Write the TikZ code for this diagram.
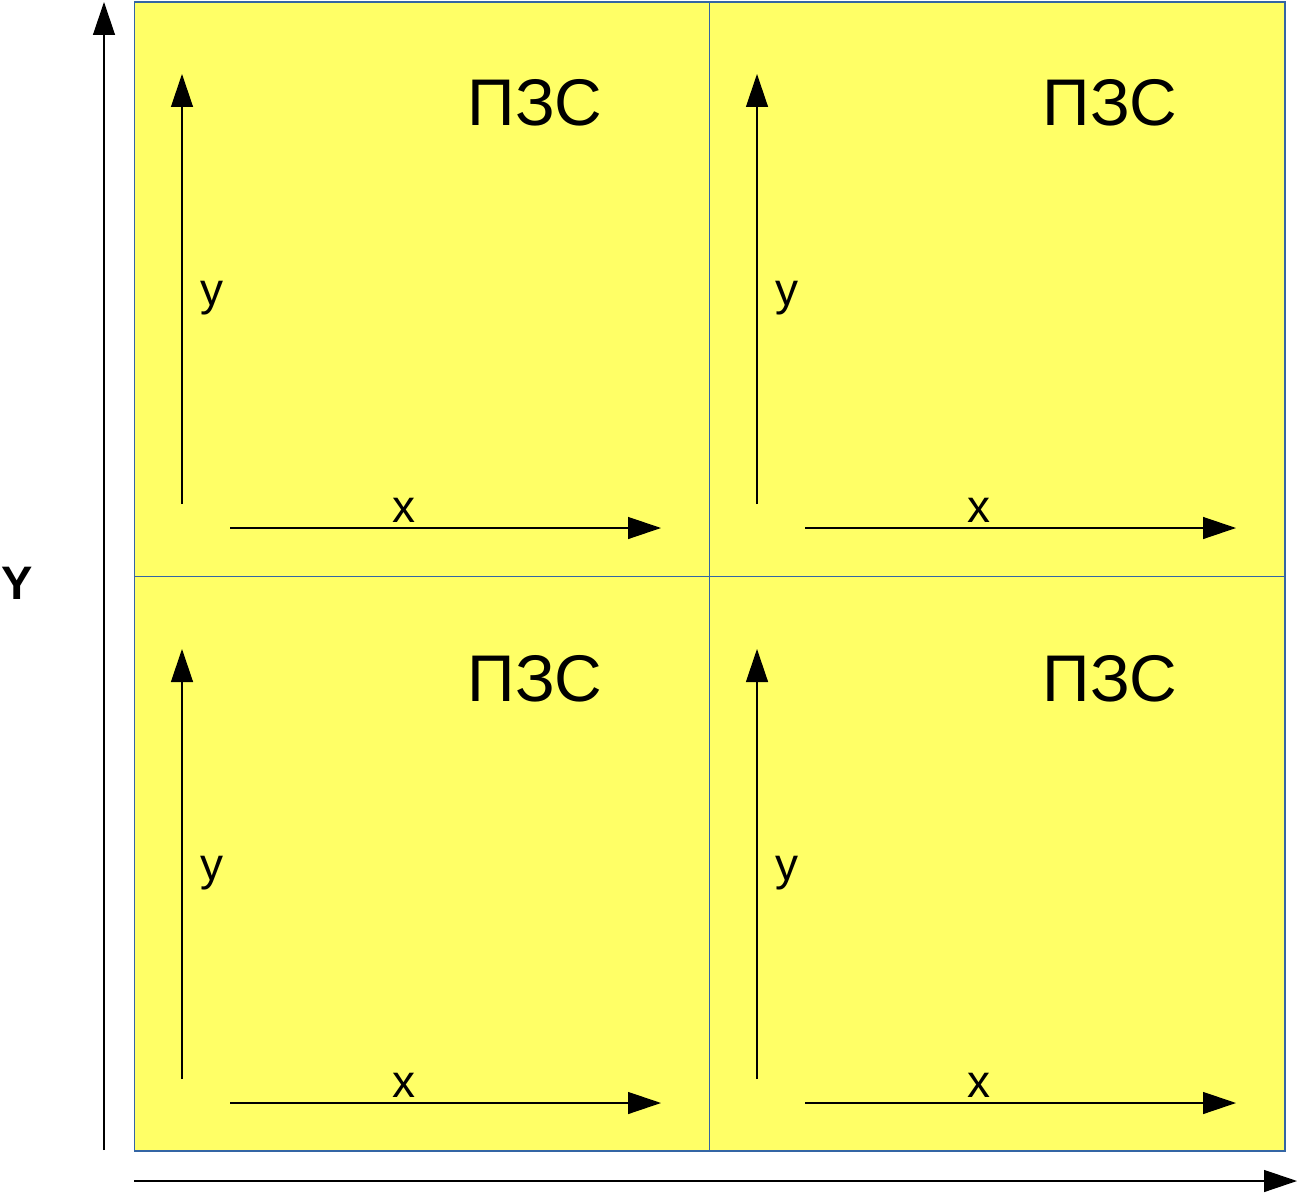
\documentclass[tikz,border=0pt]{standalone}
\usepackage{fontspec}
\setmainfont{Liberation Sans}
\usetikzlibrary{arrows.meta}
\definecolor{panelyellow}{HTML}{FFFF66}
\definecolor{panelblue}{HTML}{3465A4}
\begin{document}
\begin{tikzpicture}[x=1pt,y=-1pt,
  axis/.style={line width=1.3pt,-{Triangle[length=33pt,width=22pt]}},
  panel/.style={draw=panelblue,line width=1pt,fill=panelyellow,minimum width=575pt,minimum height=574pt,inner sep=0pt,anchor=north west},
  biglabel/.style={font=\fontsize{66}{66}\selectfont,anchor=base,inner sep=0pt},
  axlabel/.style={font=\fontsize{46}{46}\selectfont,anchor=base,inner sep=0pt}]
\useasboundingbox (0,0) rectangle (1301,1196);
% panels
\foreach \i/\dx in {0/0,1/575}{
  \foreach \j/\dy in {0/0,1/574}{
    \node[panel] (p\i\j) at (134+\dx,2+\dy) {};
  }
}
\draw[draw=panelblue,line width=1pt] (p00.north west) rectangle (p11.south east);
% inner axes and labels
\foreach \i/\dx in {0/0,1/575}{
  \foreach \j/\dy in {0/0,1/575}{
    \coordinate (ys\i\j) at (182+\dx,504+\dy);
    \coordinate (ye\i\j) at (182+\dx,74+\dy);
    \coordinate (xs\i\j) at (230+\dx,528+\dy);
    \coordinate (xe\i\j) at (661+\dx,528+\dy);
    \draw[axis] (ys\i\j) -- (ye\i\j);
    \draw[axis] (xs\i\j) -- (xe\i\j);
    \node[axlabel] (ly\i\j) at (212+\dx,305+\dy) {y};
    \node[axlabel] (lx\i\j) at (404+\dx,522+\dy) {x};
    \node[biglabel] (pzs\i\j) at (535+\dx,126+\dy) {ПЗС};
  }
}
% outer axes
\coordinate (Ys) at (104,1150);
\coordinate (Ye) at (104,2);
\coordinate (Xs) at (134,1181);
\coordinate (Xe) at (1297,1181);
\draw[axis] (Ys) -- (Ye);
\draw[axis] (Xs) -- (Xe);
\node[font=\fontsize{47}{47}\selectfont\bfseries,anchor=base,inner sep=0pt] (Ylab) at (17,599) {Y};
\end{tikzpicture}
\end{document}
